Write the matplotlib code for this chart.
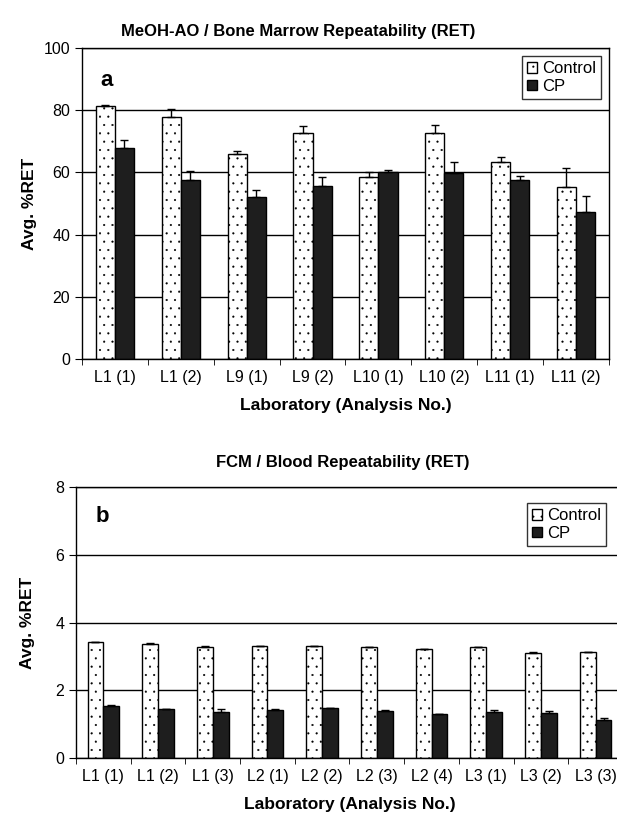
import numpy as np
import matplotlib
matplotlib.use("Agg")
from matplotlib import pyplot as plt

plt.rcParams['font.family'] = ['Liberation Sans', 'DejaVu Sans']
plt.rcParams['hatch.linewidth'] = 0.3

# Panel a: MeOH-AO / bone marrow
labels_a = ["L1 (1)", "L1 (2)", "L9 (1)", "L9 (2)", "L10 (1)", "L10 (2)", "L11 (1)", "L11 (2)"]
ctrl_a = [81.3, 77.8, 65.8, 72.7, 58.6, 72.5, 63.4, 55.2]
ctrl_err_a = [0.3, 2.7, 1.1, 2.1, 1.5, 2.7, 1.7, 6.2]
cp_a = [67.9, 57.4, 52.2, 55.7, 60.1, 59.7, 57.4, 47.4]
cp_err_a = [2.4, 3.2, 2.1, 2.7, 0.8, 3.5, 1.3, 5.1]

# Panel b: FCM / blood
labels_b = ["L1 (1)", "L1 (2)", "L1 (3)", "L2 (1)", "L2 (2)", "L2 (3)", "L2 (4)", "L3 (1)", "L3 (2)", "L3 (3)"]
ctrl_b = [3.41, 3.37, 3.29, 3.30, 3.31, 3.27, 3.22, 3.27, 3.11, 3.12]
ctrl_err_b = [0.01, 0.03, 0.01, 0.01, 0.01, 0.01, 0.01, 0.02, 0.01, 0.01]
cp_b = [1.55, 1.44, 1.37, 1.43, 1.47, 1.39, 1.29, 1.35, 1.33, 1.12]
cp_err_b = [0.01, 0.01, 0.07, 0.01, 0.01, 0.02, 0.01, 0.07, 0.07, 0.05]


def draw_panel(ax, labels, ctrl, ctrl_err, cp, cp_err, ymax, ystep, tag, ylab_x):
    x = np.arange(len(labels))
    w = 0.29
    ax.set_axisbelow(True)
    ax.yaxis.grid(True, color="black", linewidth=1.0)
    ax.bar(x - w / 2, ctrl, w, color="white", edgecolor="black", hatch="..",
           linewidth=1.0, label="Control", zorder=2)
    ax.bar(x + w / 2, cp, w, color="#1e1e1e", edgecolor="black",
           linewidth=1.0, label="CP", zorder=2)
    ax.errorbar(x - w / 2, ctrl, yerr=[np.zeros(len(ctrl)), ctrl_err], fmt="none",
                ecolor="black", elinewidth=1, capsize=3, zorder=3)
    ax.errorbar(x + w / 2, cp, yerr=[np.zeros(len(cp)), cp_err], fmt="none",
                ecolor="black", elinewidth=1, capsize=3, zorder=3)
    ax.set_xlim(-0.5, len(labels) - 0.5)
    ax.set_ylim(0, ymax)
    ax.set_yticks(np.arange(0, ymax + ystep / 2, ystep))
    ax.set_xticks(x)
    ax.set_xticklabels(labels, fontsize=11.5)
    ax.set_xticks(np.arange(-0.5, len(labels), 1.0), minor=True)
    ax.tick_params(axis="x", which="major", length=0, pad=8)
    ax.tick_params(axis="x", which="minor", length=4, direction="out")
    ax.tick_params(axis="y", length=5, direction="out", labelsize=11.5)
    for s in ax.spines.values():
        s.set_linewidth(1.0)
    ax.set_ylabel("Avg. %RET", fontsize=12.5, fontweight="bold")
    ax.yaxis.set_label_coords(ylab_x, 0.5)
    ax.set_xlabel("Laboratory (Analysis No.)", fontsize=12.5, fontweight="bold", labelpad=9)
    ax.text(0.035, 0.93, tag, transform=ax.transAxes, fontsize=16,
            fontweight="bold", va="top")
    leg = ax.legend(loc="upper right", fontsize=12, frameon=True, fancybox=False,
                    handlelength=0.6, handleheight=0.6, handletextpad=0.3,
                    borderpad=0.3, labelspacing=0.15)
    leg.get_frame().set_edgecolor("black")
    leg.get_frame().set_linewidth(1.0)


fig = plt.figure(figsize=(6.17, 8.17), dpi=100)
ax_a = fig.add_axes([0.1329, 0.5606, 0.8541, 0.3807])
ax_b = fig.add_axes([0.1232, 0.0722, 0.8865, 0.3317])

draw_panel(ax_a, labels_a, ctrl_a, ctrl_err_a, cp_a, cp_err_a, 100, 20, "a", -0.085)
draw_panel(ax_b, labels_b, ctrl_b, ctrl_err_b, cp_b, cp_err_b, 8, 2, "b", -0.075)
ax_b.legend_.set_bbox_to_anchor((0.985, 0.97), transform=ax_b.transAxes)

fig.text(0.483, 0.962, "MeOH-AO / Bone Marrow Repeatability (RET)",
         ha="center", va="center", fontsize=12, fontweight="bold")
fig.text(0.556, 0.434, "FCM / Blood Repeatability (RET)",
         ha="center", va="center", fontsize=12, fontweight="bold")

fig.savefig("out.png", dpi=100)
